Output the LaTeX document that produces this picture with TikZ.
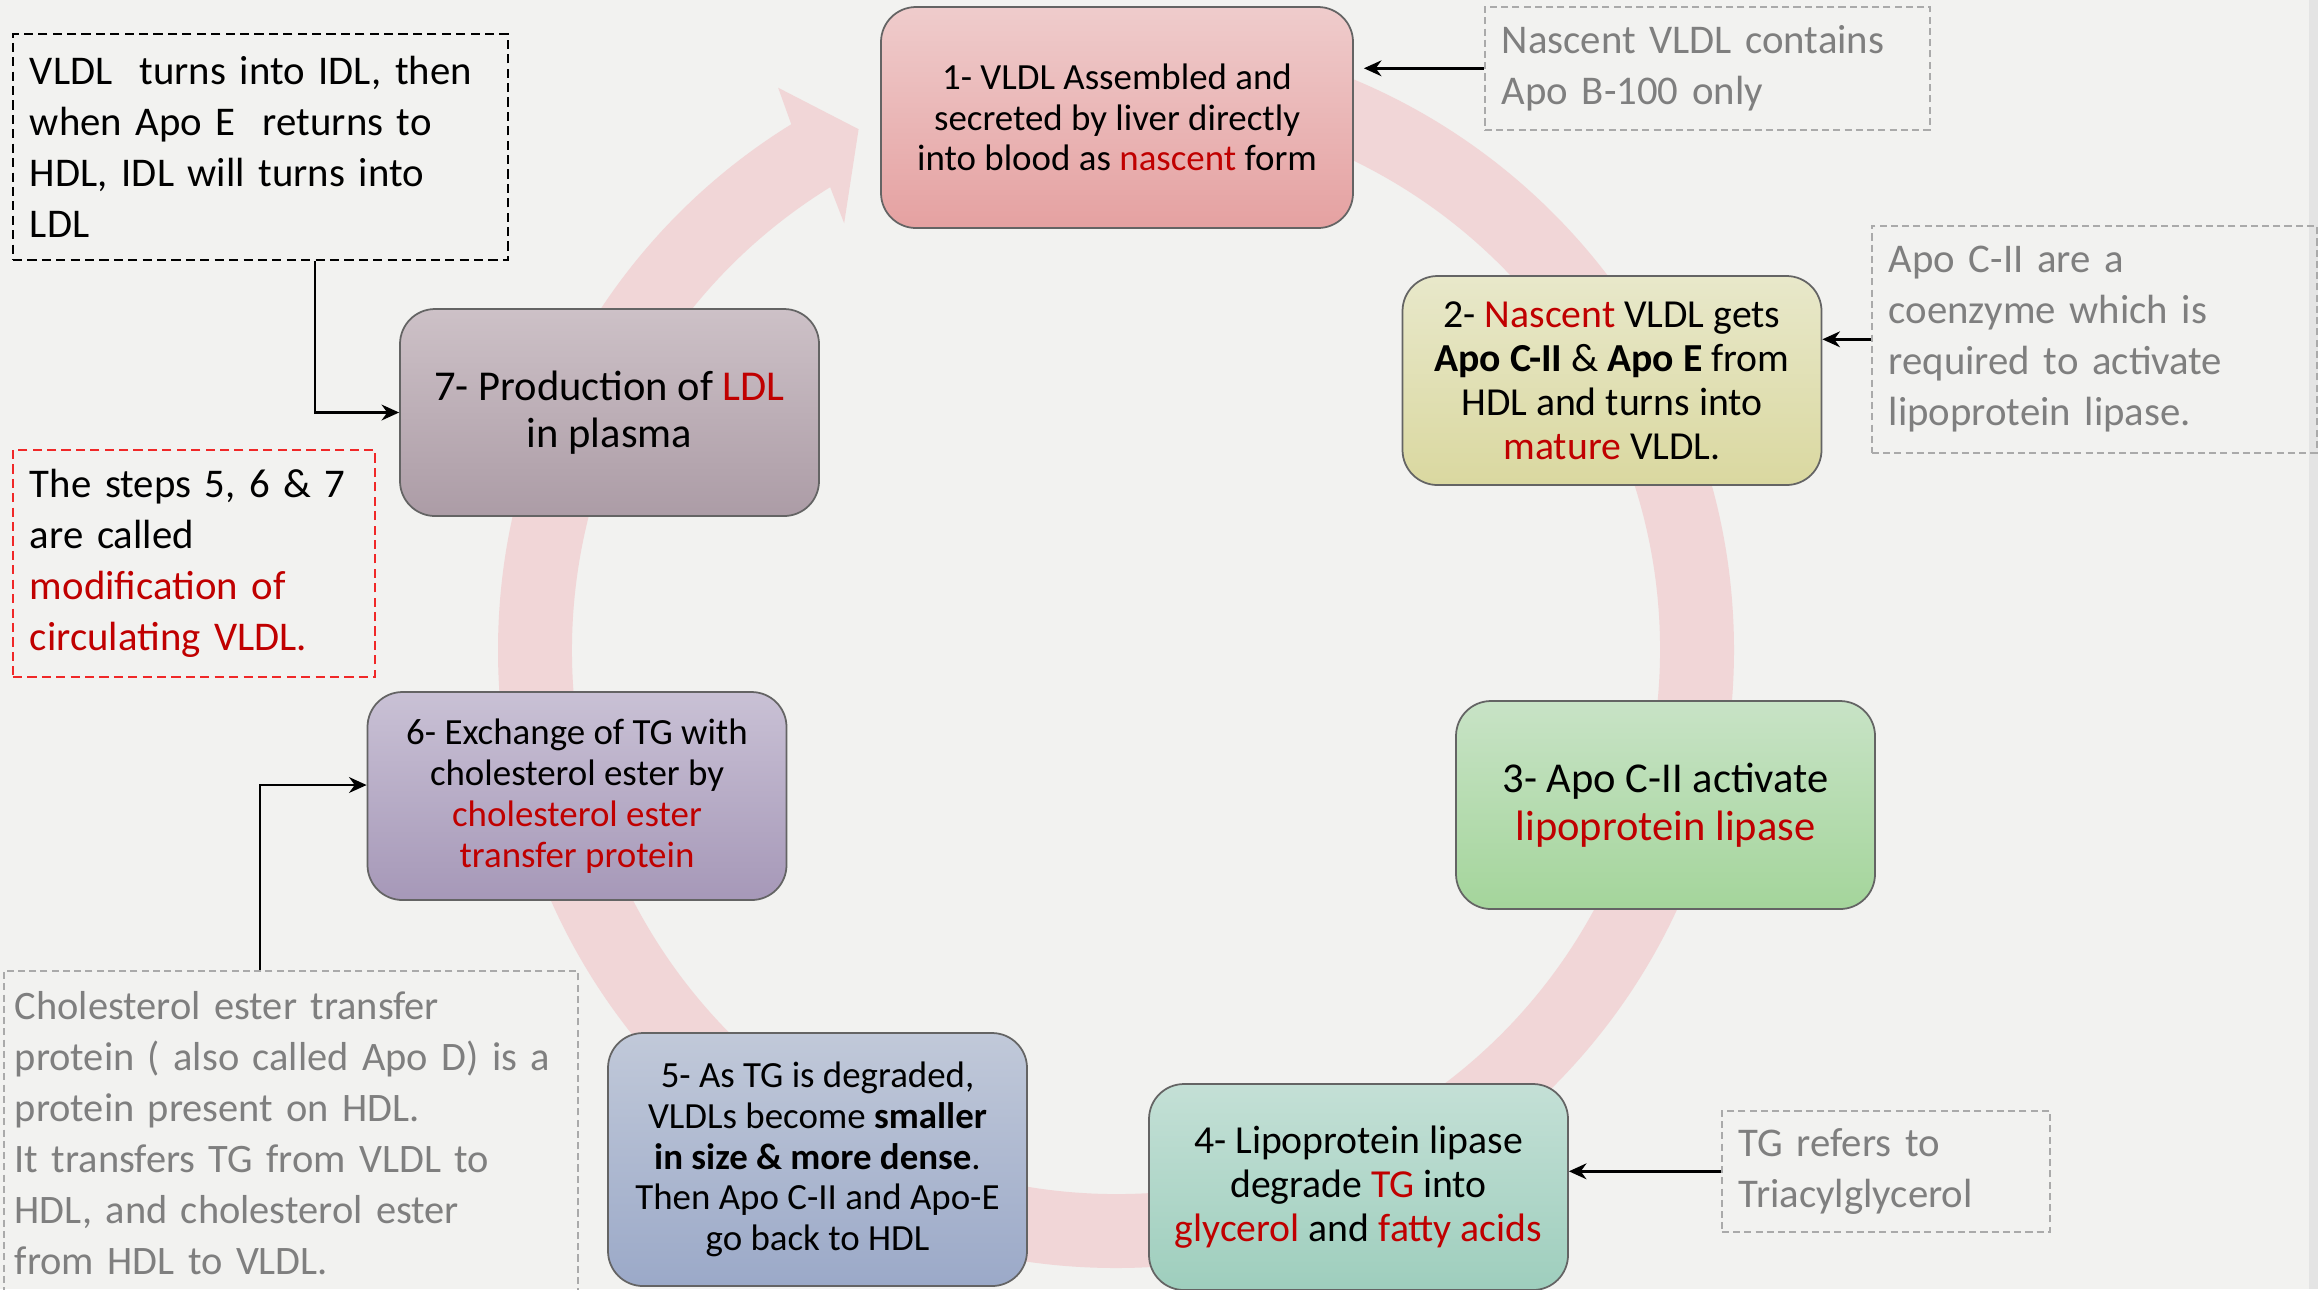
\documentclass[tikz,border=0pt]{standalone}
\usepackage{fontspec}
\setmainfont{Carlito}
\usepackage{xcolor}
\usepackage{tikz}
\usetikzlibrary{arrows.meta,calc}
\definecolor{bgcol}    {RGB}{242,242,240}
\definecolor{edgecol}  {RGB}{228,228,228}
\definecolor{ringcol}  {RGB}{241,214,215}
\definecolor{boxline}  {RGB}{100,100,100}
\definecolor{txtred}   {RGB}{192,0,0}
\definecolor{notegray} {RGB}{127,127,127}
\definecolor{dashgray} {RGB}{170,170,170}
\definecolor{dashred}  {RGB}{240,40,40}
\definecolor{livertop} {RGB}{239,204,204}
\definecolor{liverbot} {RGB}{229,161,161}
\definecolor{hdltop}   {RGB}{232,232,202}
\definecolor{hdlbot}   {RGB}{218,216,160}
\definecolor{lpltop}   {RGB}{200,227,198}
\definecolor{lplbot}   {RGB}{164,213,155}
\definecolor{tgtop}    {RGB}{196,224,214}
\definecolor{tgbot}    {RGB}{158,206,189}
\definecolor{densetop} {RGB}{193,201,217}
\definecolor{densebot} {RGB}{155,169,200}
\definecolor{cetptop}  {RGB}{201,193,213}
\definecolor{cetpbot}  {RGB}{166,152,184}
\definecolor{ldltop}   {RGB}{205,193,199}
\definecolor{ldlbot}   {RGB}{172,156,166}
\newcommand{\rtxt}[1]{\textcolor{txtred}{#1}}
\tikzset{
  mainbox/.style={draw=boxline, line width=0.5pt, rounded corners=0.35cm,
                  align=center, minimum width=4.19cm, minimum height=#1,
                  inner sep=3pt, font=\fontsize{10.5}{11.6}\selectfont},
  mainbox/.default=2.08cm,
  bigfont/.style ={font=\fontsize{11.3}{12.5}\selectfont},
  hugefont/.style={font=\fontsize{12.1}{13.5}\selectfont},
  liverbox/.style={mainbox=2.21cm, minimum width=4.72cm,
                   top color=livertop, bottom color=liverbot},
  hdlbox/.style  ={mainbox=2.09cm, bigfont, top color=hdltop, bottom color=hdlbot},
  lplbox/.style  ={mainbox, hugefont, top color=lpltop, bottom color=lplbot},
  tgbox/.style   ={mainbox=2.06cm, bigfont, top color=tgtop, bottom color=tgbot},
  densebox/.style={mainbox=2.53cm, top color=densetop, bottom color=densebot},
  cetpbox/.style ={mainbox, top color=cetptop, bottom color=cetpbot},
  ldlbox/.style  ={mainbox=2.07cm, hugefont, top color=ldltop, bottom color=ldlbot},
  notebox/.style ={draw=dashgray, line width=0.45pt, dash pattern=on 2pt off 1.2pt,
                   text=notegray, align=left, anchor=north west,
                   text width=#1, inner xsep=0.17cm, inner ysep=2pt,
                   font=\fontsize{11.6}{14.5}\selectfont},
  notebox/.default=4.11cm,
  blacknote/.style={notebox=#1, draw=black, text=black, line width=0.55pt,
                    dash pattern=on 2.6pt off 1.5pt},
  rednote/.style  ={notebox=#1, draw=dashred, text=black, line width=0.55pt,
                    dash pattern=on 2.6pt off 1.5pt},
  arr/.style     ={-{Stealth[length=5pt,width=4.5pt]}, line width=0.7pt},
}
\begin{document}
\begin{tikzpicture}
  % canvas
  \useasboundingbox (0,0) rectangle (23.18,-12.89);
  \fill[bgcol] (0,0) rectangle (23.18,-12.89);
  \fill[edgecol] (23.09,0) rectangle (23.18,-12.89);

  % the big cycle arrow
  \coordinate (ctr) at (11.16,-6.50);
  \fill[ringcol, shift={(ctr)}]
    (90:6.18) arc[start angle=90, end angle=-238.3, radius=6.18]
    -- (-239:6.56) -- (-243.7:5.81) -- (-237.5:5.06)
    -- (-238.3:5.44) arc[start angle=-238.3, end angle=90, radius=5.44] -- cycle;

  % steps
  \node[liverbox] (s1) at (11.17,-1.175)
    {1- VLDL Assembled and\\secreted by liver directly\\into blood as \rtxt{nascent} form};
  \node[hdlbox] (s2) at (16.12,-3.805)
    {2- \rtxt{Nascent} VLDL gets\\\textbf{Apo C-II} \& \textbf{Apo E} from\\HDL and turns into\\\rtxt{mature} VLDL.};
  \node[lplbox] (s3) at (16.655,-8.05)
    {3- Apo C-II activate\\\rtxt{lipoprotein lipase}};
  \node[tgbox] (s4) at (13.585,-11.87)
    {4- Lipoprotein lipase\\degrade \rtxt{TG} into\\\rtxt{glycerol} and \rtxt{fatty acids}};
  \node[densebox] (s5) at (8.175,-11.595)
    {5- As TG is degraded,\\VLDLs become \textbf{smaller}\\\textbf{in size \& more dense}.\\Then Apo C-II and Apo-E\\go back to HDL};
  \node[cetpbox] (s6) at (5.77,-7.96)
    {6- Exchange of TG with\\cholesterol ester by\\\rtxt{cholesterol ester}\\\rtxt{transfer protein}};
  \node[ldlbox] (s7) at (6.095,-4.125)
    {7- Production of \rtxt{LDL}\\in plasma};

  % side notes
  \node[blacknote=4.61cm, minimum height=2.26cm] (idlnote) at (0.12,-0.33)
    {VLDL\ \ turns into IDL, then\\when Apo E\ \ returns to\\HDL, IDL will turns into\\LDL};
  \node[rednote=3.28cm, minimum height=2.27cm] (modnote) at (0.12,-4.49)
    {The steps 5, 6 \& 7\\are called\\\rtxt{modification of}\\\rtxt{circulating VLDL.}};
  \node[notebox, minimum height=1.23cm] (b100note) at (14.84,-0.06)
    {Nascent VLDL contains\\Apo B-100 only};
  \node[notebox, minimum height=2.27cm] (cnote) at (18.71,-2.25)
    {Apo C-II are a\\coenzyme which is\\required to activate\\lipoprotein lipase.};
  \node[notebox=2.94cm, minimum height=1.21cm] (tgnote) at (17.21,-11.10)
    {TG refers to\\Triacylglycerol};
  \node[notebox=5.52cm, inner xsep=0.11cm, minimum height=3.24cm,
        font=\fontsize{11.5}{14.5}\selectfont] (cetpnote) at (0.03,-9.70)
    {Cholesterol ester transfer\\protein ( also called Apo D) is a\\protein present on HDL.\\It transfers TG from VLDL to\\HDL, and cholesterol ester\\from HDL to VLDL.};

  % connectors
  \draw[arr] (b100note.west) -- ([xshift=0.1cm]b100note.west -| s1.east);
  \draw[arr] (cnote.west) -- (cnote.west -| s2.east);
  \draw[arr] (tgnote.west) -- (tgnote.west -| s4.east);
  \draw[arr] ([xshift=0.545cm]idlnote.south) |- (s7.west);
  \draw[arr] ([xshift=-0.31cm]cetpnote.north) |- ([yshift=0.11cm]s6.west);
\end{tikzpicture}
\end{document}
